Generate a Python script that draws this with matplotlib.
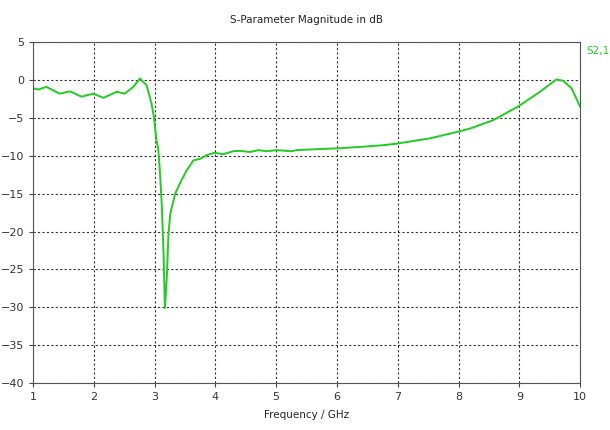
import matplotlib.pyplot as plt

# S2,1 magnitude
freq_ghz = [1.00, 1.09, 1.22, 1.44, 1.61, 1.80, 1.99, 2.16, 2.38, 2.51, 2.65, 2.76, 2.87,
            2.95, 2.99, 3.03, 3.06, 3.09, 3.12, 3.15, 3.17, 3.20, 3.23, 3.26, 3.34,
            3.42, 3.53, 3.64, 3.75, 3.86, 3.99, 4.13, 4.29, 4.40, 4.57, 4.71, 4.84,
            5.01, 5.25, 5.34, 5.75, 6.05, 6.43, 6.76, 6.98, 7.37, 7.53, 8.00, 8.19,
            8.57, 8.98, 9.34, 9.61, 9.72, 9.86, 10.00]
s21_db = [-1.1, -1.25, -0.9, -1.8, -1.5, -2.2, -1.8, -2.35, -1.55, -1.8, -0.9, 0.2, -0.7,
          -3.1, -4.9, -7.9, -9.0, -12.3, -16.7, -23.3, -30.1, -26.4, -20.2, -17.6, -15.0,
          -13.6, -11.9, -10.6, -10.4, -9.9, -9.6, -9.8, -9.4, -9.34, -9.5, -9.25, -9.4,
          -9.25, -9.4, -9.25, -9.1, -9.0, -8.8, -8.6, -8.4, -7.9, -7.7, -6.8, -6.4,
          -5.3, -3.5, -1.55, 0.08, -0.1, -1.1, -3.5]

x_ticks = [1, 2, 3, 4, 5, 6, 7, 8, 9, 10]
y_ticks = [5, 0, -5, -10, -15, -20, -25, -30, -35, -40]

green = '#22cc22'

fig = plt.figure(figsize=(6.1, 4.3), dpi=100)
ax = fig.add_axes([0.054, 0.109, 0.897, 0.793])

ax.plot(freq_ghz, s21_db, color=green, linewidth=1.4)

ax.set_xlim(1, 10)
ax.set_ylim(-40, 5)
ax.set_xticks(x_ticks)
ax.set_yticks(y_ticks)
ax.tick_params(labelsize=8, length=3, width=0.8, colors='#444444', labelcolor='#333333')
ax.grid(color='black', linestyle=(0, (2, 2)), linewidth=0.8, alpha=0.8)
for s in ax.spines.values():
    s.set_color('#555555')
    s.set_linewidth(0.8)

ax.set_title('S-Parameter Magnitude in dB', fontsize=7.5, color='#222222', pad=14)
ax.set_xlabel('Frequency / GHz', fontsize=7.5, color='#222222', labelpad=6)
fig.text(0.962, 0.875, 'S2,1', color=green, fontsize=7.5)

plt.savefig('out.png', dpi=100)
